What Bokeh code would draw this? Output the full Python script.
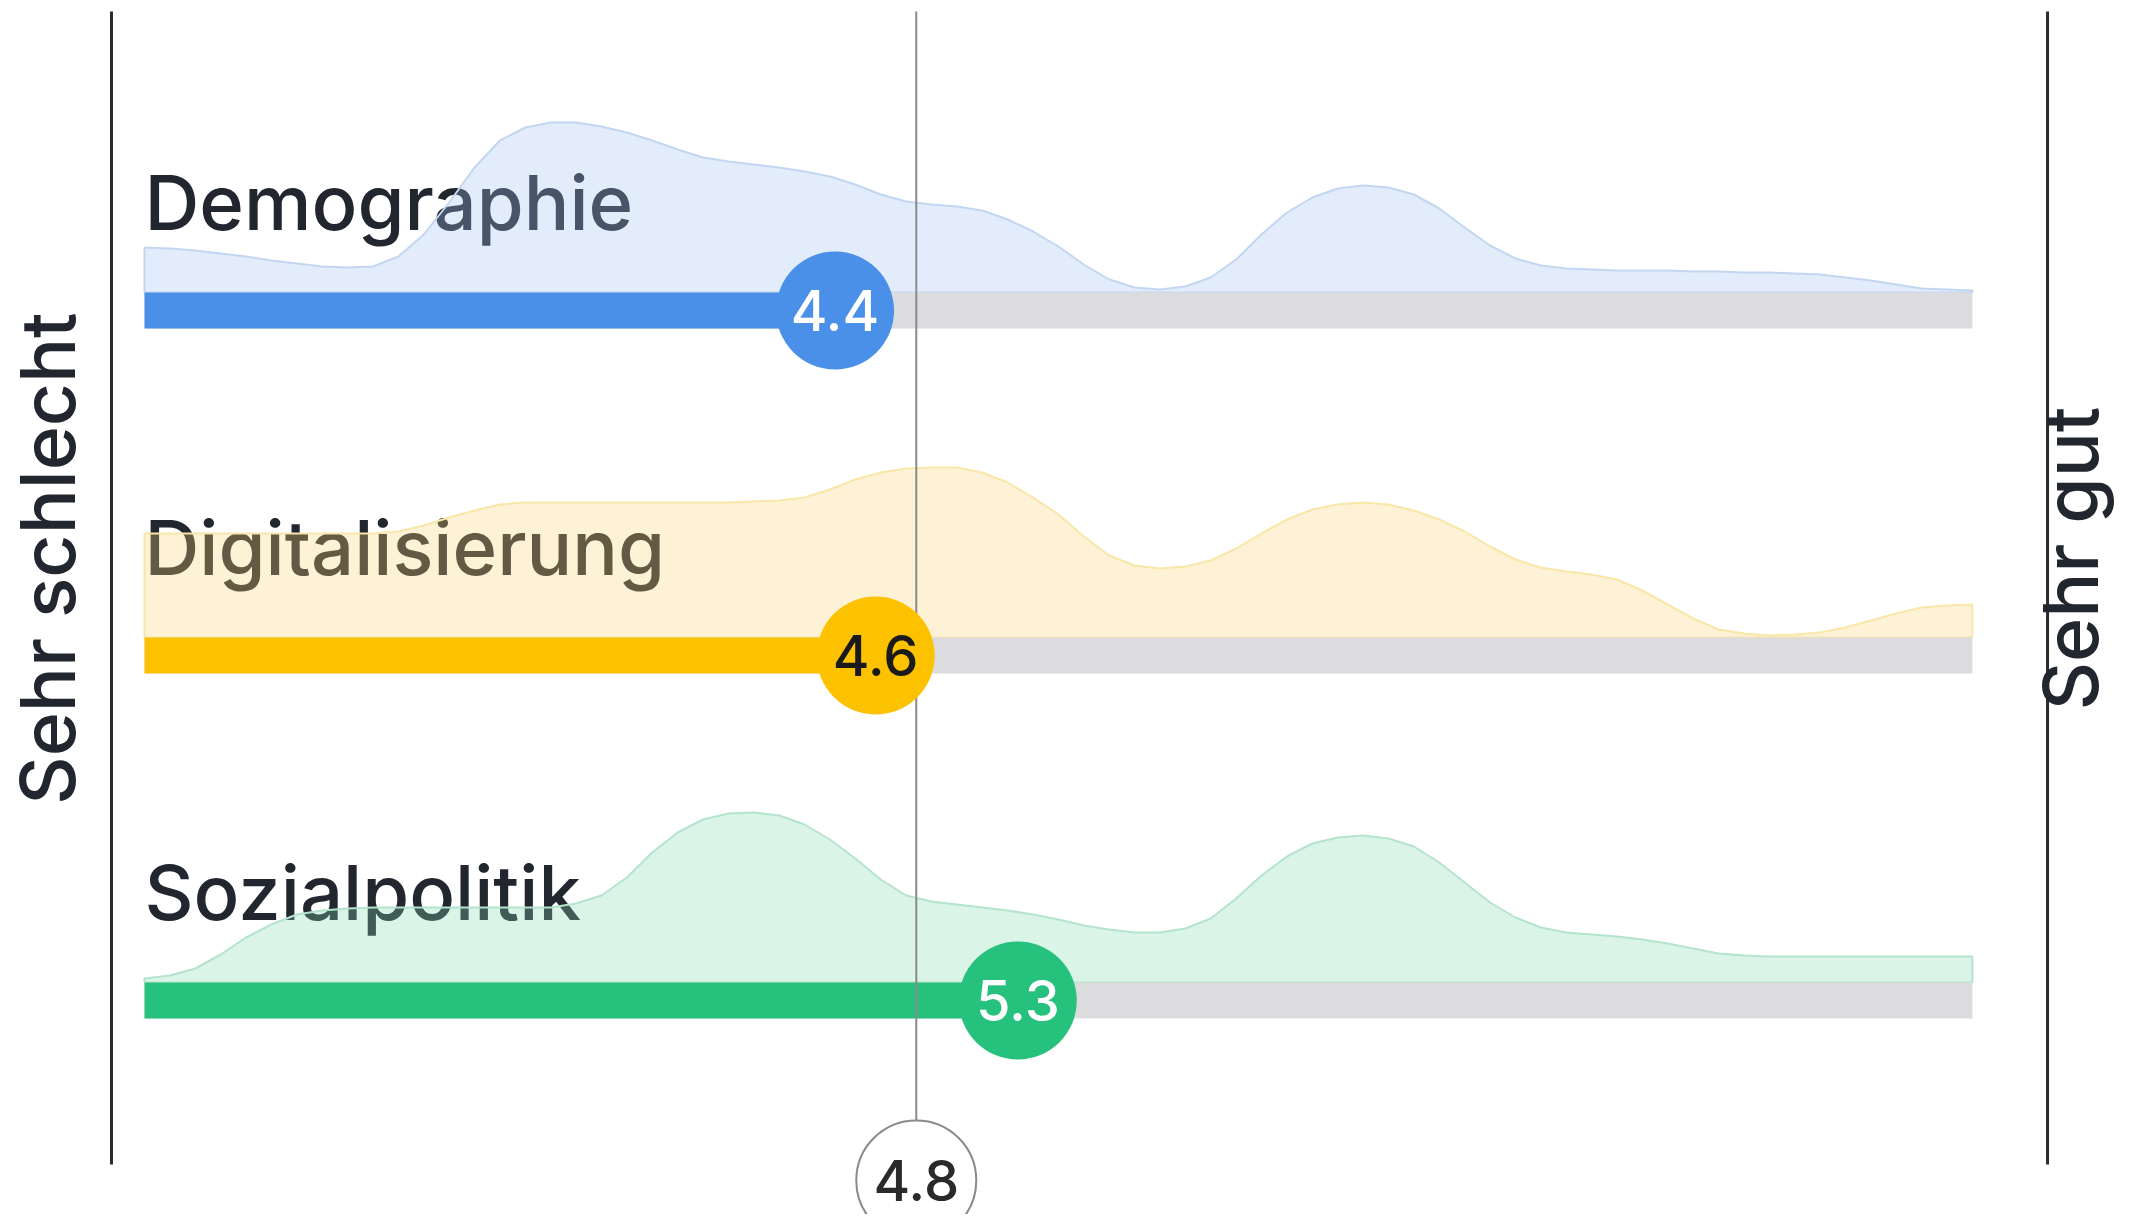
import math
from bokeh.plotting import figure
from bokeh.models import Range1d
from bokeh.embed import file_html
from bokeh.resources import INLINE
from bokeh.core.properties import value

# ---------------- data ----------------
categories = ["Demographie", "Digitalisierung", "Sozialpolitik"]
scores = [4.4, 4.6, 5.3]
mean_score = 4.8
scale_min = 1.0
scale_max = 10.0
left_label = "Sehr schlecht"
right_label = "Sehr gut"

density_x = [1.0, 1.125, 1.25, 1.375, 1.5, 1.625, 1.75, 1.875,
             2.0, 2.125, 2.25, 2.375, 2.5, 2.625, 2.75, 2.875,
             3.0, 3.125, 3.25, 3.375, 3.5, 3.625, 3.75, 3.875,
             4.0, 4.125, 4.25, 4.375, 4.5, 4.625, 4.75, 4.875,
             5.0, 5.125, 5.25, 5.375, 5.5, 5.625, 5.75, 5.875,
             6.0, 6.125, 6.25, 6.375, 6.5, 6.625, 6.75, 6.875,
             7.0, 7.125, 7.25, 7.375, 7.5, 7.625, 7.75, 7.875,
             8.0, 8.125, 8.25, 8.375, 8.5, 8.625, 8.75, 8.875,
             9.0, 9.125, 9.25, 9.375, 9.5, 9.625, 9.75, 9.875, 10.0]

density_demographie = [45, 44, 42, 39, 36, 32, 29, 26,
                       25, 26, 36, 58, 90, 125, 152, 165,
                       170, 170, 166, 160, 152, 143, 135, 131,
                       128, 125, 121, 116, 108, 98, 91, 88,
                       86, 82, 73, 61, 46, 28, 13, 5,
                       3, 6, 15, 33, 58, 80, 95, 104,
                       107, 105, 98, 84, 65, 47, 34, 27,
                       24, 23, 22, 22, 22, 21, 21, 20,
                       20, 19, 18, 15, 12, 8, 4, 3, 2]

density_digitalisierung = [104, 104, 104, 104, 104, 104, 104, 104,
                           104, 104, 106, 112, 120, 127, 133, 135,
                           135, 135, 135, 135, 135, 135, 135, 135,
                           136, 137, 140, 148, 158, 165, 169, 170,
                           170, 165, 155, 140, 123, 101, 82, 72,
                           69, 71, 77, 89, 104, 118, 128, 133,
                           135, 133, 127, 118, 106, 91, 78, 70,
                           66, 63, 58, 47, 33, 19, 8, 4,
                           2, 3, 5, 10, 17, 24, 30, 32, 33]

density_sozialpolitik = [4, 7, 14, 28, 45, 58, 68, 72,
                         74, 75, 75, 75, 75, 75, 75, 75,
                         75, 79, 87, 105, 130, 150, 163, 169,
                         170, 167, 158, 143, 124, 103, 87, 81,
                         78, 75, 72, 68, 63, 57, 53, 50,
                         50, 54, 64, 84, 107, 126, 139, 145,
                         147, 144, 136, 120, 100, 80, 65, 55,
                         50, 48, 46, 43, 39, 34, 29, 27,
                         26, 26, 26, 26, 26, 26, 26, 26, 26]

densities = [density_demographie, density_digitalisierung, density_sozialpolitik]

# ---------------- styles ----------------
bar_colors = ["#4a90e8", "#fcc200", "#26c17c"]
density_fill = ["#a2c0ee", "#f8d474", "#84dab2"]
density_line = ["#c3d6f1", "#f9e6a9", "#b4e4cd"]
score_text_colors = ["#ffffff", "#1a1a1a", "#ffffff"]
track_color = "#dcdcdf"
text_color = "#22262f"
FONT = value("'Inter Medium', Inter")

row_y = [310, 655, 1000]
track_h = 36
mean_circle_y = 1180

p = figure(width=2118, height=1214,
           x_range=Range1d(0.29099, 10.7194), y_range=Range1d(1214, 0),
           output_backend="svg", toolbar_location=None,
           x_axis_location=None, y_axis_location=None, min_border=0)
p.grid.visible = False
p.outline_line_color = None
p.background_fill_color = "white"
p.border_fill_color = "white"

# category labels (under the densities)
p.text(x=[scale_min] * 3, y=[c - 109 for c in row_y], text=categories,
       text_font=FONT, text_font_size="76px", text_color=text_color,
       text_align="left", text_baseline="middle")

# densities
for i, dens in enumerate(densities):
    top = row_y[i] - track_h / 2
    xs = [scale_min] + density_x + [scale_max]
    ys = [top] + [top - d for d in dens] + [top]
    p.patch(xs, ys, fill_color=density_fill[i], fill_alpha=0.3,
            line_color=density_line[i], line_width=2)

# tracks
p.hbar(y=row_y, left=scale_min, right=scale_max, height=track_h,
       fill_color=track_color, line_color=None)
p.hbar(y=row_y, left=scale_min, right=scores, height=track_h,
       fill_color=bar_colors, line_color=None)

# mean line
p.segment(x0=[mean_score], y0=[11], x1=[mean_score], y1=[mean_circle_y],
          line_color="#8a8a8a", line_width=2)

# score circles
p.scatter(x=scores, y=row_y, size=118, fill_color=bar_colors, line_color=None)
p.text(x=scores, y=row_y, text=[f"{s:.1f}" for s in scores],
       text_font=FONT, text_font_size="56px", text_color=score_text_colors,
       text_align="center", text_baseline="middle")

# mean circle
p.scatter(x=[mean_score], y=[mean_circle_y], size=120, fill_color="white",
          line_color="#8a8a8a", line_width=2)
p.text(x=[mean_score], y=[mean_circle_y], text=[f"{mean_score:.1f}"],
       text_font=FONT, text_font_size="56px", text_color="#2a2a2a",
       text_align="center", text_baseline="middle")

# side lines
p.segment(x0=[0.8375, 10.37], y0=[11, 11], x1=[0.8375, 10.37], y1=[1164, 1164],
          line_color="#2b2b2b", line_width=3)

# side labels
p.text(x=[0.522, 10.483], y=[558, 558], text=[left_label, right_label],
       angle=math.pi / 2, text_font=FONT, text_font_size="75px",
       text_color=text_color, text_align="center", text_baseline="middle")

open("out.html", "w").write(file_html(p, INLINE))
